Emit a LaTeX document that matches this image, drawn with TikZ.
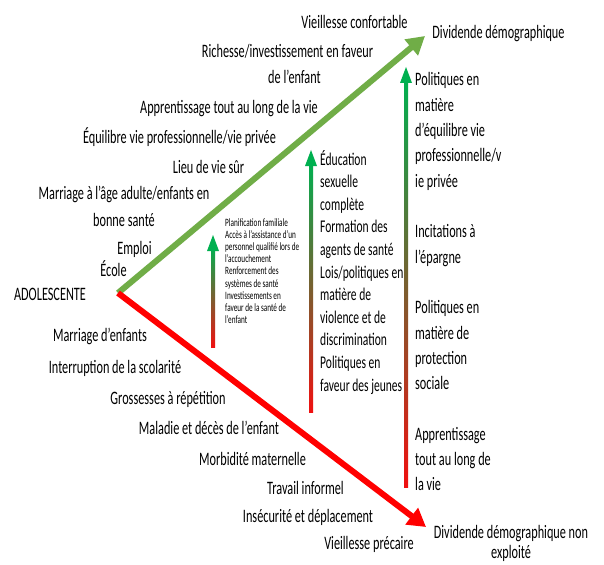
\documentclass[tikz,border=0pt]{standalone}
\usepackage{fontspec}
\setmainfont{Carlito}[FakeStretch=0.645]
\usetikzlibrary{arrows.meta}
\definecolor{mgreen}{HTML}{70AD47}
\definecolor{mred}{HTML}{FF0000}
\definecolor{vgreen}{HTML}{00B050}
\definecolor{vbrown}{HTML}{8A5A30}
\definecolor{vred}{HTML}{F01010}
\newcommand\stacklines[6]{\foreach \t [count=\i] in {#6} {\node[#5] (#1\i) at (#2,{#3+(\i-1)*#4}) {\t};}}
\newcommand\gradarrow[4]{% name, x, tip y, bottom y
  \coordinate (#1tip) at (#2,#3);
  \coordinate (#1bot) at (#2,#4);
  \shade[top color=vgreen, middle color=vbrown, bottom color=vred]
    ([xshift=-2pt,yshift=-12pt]#1tip) rectangle ([xshift=2pt]#1bot);
  \fill[vgreen] ([xshift=-6pt,yshift=-16pt]#1tip) -- (#1tip) -- ([xshift=6pt,yshift=-16pt]#1tip) -- cycle;
}
\begin{document}
\begin{tikzpicture}[x=1pt,y=-1pt,
  big/.style={inner sep=0pt, anchor=base, font=\fontsize{19}{22}\selectfont},
  rcol/.style={inner sep=0pt, anchor=base west, font=\fontsize{19}{22}\selectfont},
  mcol/.style={inner sep=0pt, anchor=base west, font=\fontsize{17.9}{21}\selectfont},
  scol/.style={inner sep=0pt, anchor=base west, font=\fontsize{11.2}{13}\selectfont},
  mainarrow/.style={line width=6pt, -{Triangle[length=18pt,width=20pt]}}]
\useasboundingbox[fill=white] (0,0) rectangle (604,564);

% main arrows
\coordinate (ado) at (118,293);
\coordinate (good) at (425,36);
\coordinate (bad) at (426,527);
\draw[mainarrow, mgreen] (ado) -- (good);
\draw[mainarrow, mred] (ado) -- (bad);

% vertical gradient arrows
\gradarrow{va}{213}{235}{347}
\gradarrow{vb}{311}{150}{412}
\gradarrow{vc}{406}{67}{487}

% labels on the green side
\node[big] (g1) at (354.5,29) {Vieillesse confortable};
\node[big] (g2) at (287.5,58) {Richesse/investissement en faveur};
\node[big] (g3) at (294.5,84) {de l’enfant};
\node[big] (g4) at (229,114) {Apprentissage tout au long de la vie};
\node[big] (g5) at (179.5,143) {Équilibre vie professionnelle/vie privée};
\node[big] (g6) at (208.5,173) {Lieu de vie sûr};
\node[big] (g7) at (124,199) {Marriage à l’âge adulte/enfants en};
\node[big] (g8) at (124,226) {bonne santé};
\node[big] (g9) at (134.5,254) {Emploi};
\node[big] (g10) at (113.5,276) {École};
\node[big] (adol) at (50,300) {ADOLESCENTE};

% labels on the red side
\node[big] (r1) at (100,341) {Marriage d’enfants};
\node[big] (r2) at (115,373) {Interruption de la scolarité};
\node[big] (r3) at (168,404) {Grossesses à répétition};
\node[big] (r4) at (209,434) {Maladie et décès de l’enfant};
\node[big] (r5) at (252.5,465) {Morbidité maternelle};
\node[big] (r6) at (305.5,494) {Travail informel};
\node[big] (r7) at (308,522) {Insécurité et déplacement};
\node[big] (r8) at (369,549) {Vieillesse précaire};

% outcomes
\node[big] (dd) at (498.5,39) {Dividende démographique};
\node[big] (ddn1) at (511,538) {Dividende démographique non};
\node[big] (ddn2) at (511,558.5) {exploité};

% small column
\stacklines{s}{225}{226.5}{12.1}{scol}{Planification familiale,Accès à l’assistance d’un,personnel qualifié lors de,l’accouchement,Renforcement des,systèmes de santé,Investissements en,faveur de la santé de,l’enfant}

% middle column
\stacklines{m}{320}{165}{22.6}{mcol}{Éducation,sexuelle,complète,Formation des,agents de santé,Lois/politiques en,matière de,violence et de,discrimination,Politiques en,faveur des jeunes}

% right column
\stacklines{pa}{415}{86}{25.3}{rcol}{Politiques en,matière,d’équilibre vie,professionnelle/v,ie privée}
\stacklines{pb}{415}{237.8}{25.3}{rcol}{Incitations à,l’épargne}
\stacklines{pc}{415}{313.7}{25.3}{rcol}{Politiques en,matière de,protection,sociale}
\stacklines{pd}{415}{440.2}{25.3}{rcol}{Apprentissage,tout au long de,la vie}
\end{tikzpicture}
\end{document}
